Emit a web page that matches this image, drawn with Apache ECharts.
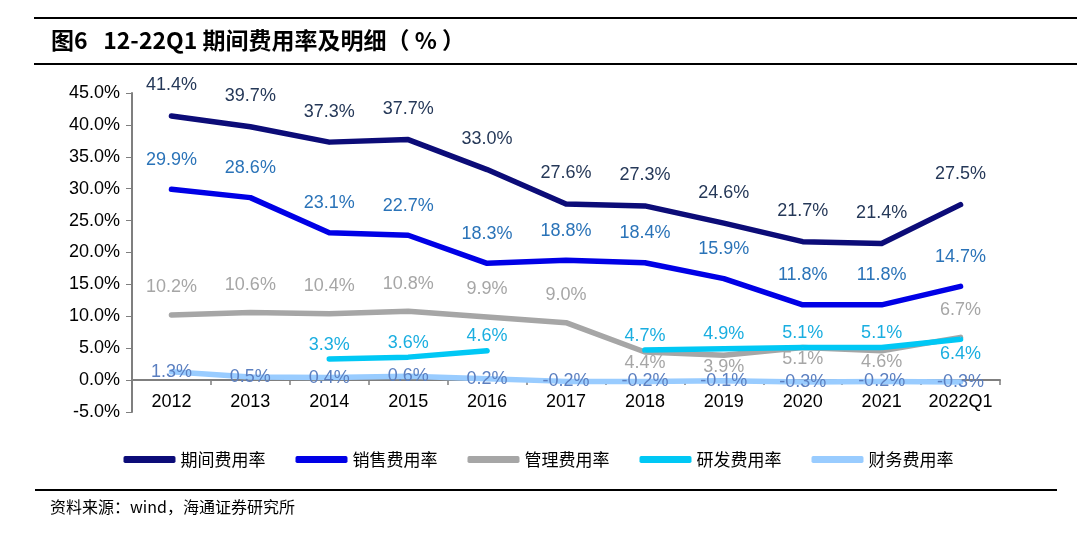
<!DOCTYPE html>
<html lang="zh-CN">
<head>
    <meta charset="UTF-8">
    <title>12-22Q1 期间费用率及明细</title>
    <script src="https://cdn.jsdelivr.net/npm/echarts@6/dist/echarts.min.js"></script>
    <style>
        body { margin: 0; background: #fff; }
        #chart { width: 1077px; height: 537px; }
    </style>
</head>
<body>
<div id="chart"></div>
<script>
    // 横轴类目
    const years = ['2012', '2013', '2014', '2015', '2016', '2017', '2018', '2019', '2020', '2021', '2022Q1'];
    // 各项费用率（%）
    const periodRate = [41.4, 39.7, 37.3, 37.7, 33.0, 27.6, 27.3, 24.6, 21.7, 21.4, 27.5];
    const salesRate = [29.9, 28.6, 23.1, 22.7, 18.3, 18.8, 18.4, 15.9, 11.8, 11.8, 14.7];
    const mgmtRate = [10.2, 10.6, 10.4, 10.8, 9.9, 9.0, 4.4, 3.9, 5.1, 4.6, 6.7];
    const rdRate = [null, null, 3.3, 3.6, 4.6, null, 4.7, 4.9, 5.1, 5.1, 6.4];
    const finRate = [1.3, 0.5, 0.4, 0.6, 0.2, -0.2, -0.2, -0.1, -0.3, -0.2, -0.3];
    const seriesNames = ['期间费用率', '销售费用率', '管理费用率', '研发费用率', '财务费用率'];

    const chart = echarts.init(document.getElementById('chart'));
    const numFont = '"Liberation Sans", Arial, sans-serif';
    const cjkFont = '"Noto Sans CJK SC", sans-serif';
    const fmt = p => p.value.toFixed(1) + '%';

    // 标签放在线下方的点
    const belowIdx = { '管理费用率': [6, 7, 8, 9], '研发费用率': [10] };

    function makeSeries(name, values, lineColor, labelColor, dist) {
        const below = belowIdx[name] || [];
        return {
            name: name,
            type: 'line',
            data: values.map((v, i) => below.indexOf(i) >= 0
                ? { value: v, label: { position: 'bottom', distance: name === '研发费用率' ? 5 : 2 } }
                : v),
            symbol: 'circle',
            symbolSize: 1,
            showSymbol: true,
            lineStyle: { color: lineColor, width: 5.5, cap: 'round', join: 'round' },
            itemStyle: { color: lineColor },
            label: {
                show: true,
                position: dist === null ? 'inside' : 'top',
                distance: dist === null ? 0 : dist,
                color: labelColor,
                fontFamily: numFont,
                fontSize: 18,
                formatter: fmt
            },
            emphasis: { disabled: true }
        };
    }

    chart.setOption({
        animation: false,
        graphic: [
            { type: 'line', shape: { x1: 34, y1: 18, x2: 1077, y2: 18 }, style: { stroke: '#000', lineWidth: 2 } },
            { type: 'line', shape: { x1: 34, y1: 64, x2: 1077, y2: 64 }, style: { stroke: '#000', lineWidth: 2 } },
            { type: 'text', left: 51, top: 29, style: { text: '图6   12-22Q1 期间费用率及明细（ % ）', fontFamily: cjkFont, fontWeight: 'bold', fontSize: 23, fill: '#000' } },
            { type: 'line', shape: { x1: 35, y1: 490, x2: 1057, y2: 490 }, style: { stroke: '#000', lineWidth: 2 } },
            { type: 'text', left: 50, top: 499, style: { text: '资料来源：wind，海通证券研究所', fontFamily: cjkFont, fontSize: 16, fill: '#000' } }
        ],
        legend: {
            top: 446,
            left: 'center',
            itemWidth: 52,
            itemHeight: 7,
            itemGap: 30,
            icon: 'roundRect',
            textStyle: { fontFamily: cjkFont, fontSize: 17, color: '#000' },
            data: seriesNames
        },
        grid: { left: 132, right: 77, top: 93, bottom: 125 },
        xAxis: {
            type: 'category',
            data: years,
            offset: -32,
            axisLine: { onZero: false, lineStyle: { color: '#7f7f7f', width: 2 } },
            axisTick: { show: true, length: 5, lineStyle: { color: '#7f7f7f', width: 1.5 } },
            axisLabel: { color: '#000', fontFamily: numFont, fontSize: 18, margin: 13, interval: 0 }
        },
        yAxis: {
            type: 'value',
            min: -5,
            max: 45,
            interval: 5,
            splitLine: { show: false },
            axisLine: { show: true, lineStyle: { color: '#7f7f7f', width: 2 } },
            axisTick: { show: true, length: 6, lineStyle: { color: '#7f7f7f' } },
            axisLabel: { color: '#000', fontFamily: numFont, fontSize: 18, margin: 12, formatter: v => v.toFixed(1) + '%' }
        },
        series: [
            makeSeries('期间费用率', periodRate, '#0c0c78', '#253858', 21),
            makeSeries('销售费用率', salesRate, '#0000e6', '#2a73b8', 20),
            makeSeries('管理费用率', mgmtRate, '#a6a6a6', '#a6a6a6', 18),
            makeSeries('研发费用率', rdRate, '#00c8f5', '#1aaee0', 5),
            makeSeries('财务费用率', finRate, '#99ccff', '#5b7fc0', null)
        ]
    });
</script>
</body>
</html>
